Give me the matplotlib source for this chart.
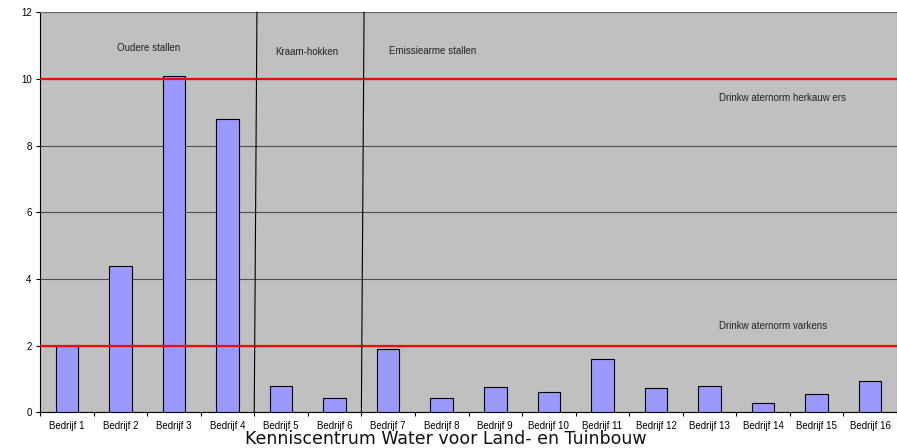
import matplotlib.pyplot as plt
import numpy as np

plt.rcParams.update({
    "font.family": ["Liberation Sans", "DejaVu Sans"],
    "font.size": 7,
})

companies = [f"Bedrijf {i}" for i in range(1, 17)]
values = [2.0, 4.4, 10.1, 8.8, 0.8, 0.42, 1.9, 0.42,
          0.75, 0.6, 1.59, 0.73, 0.78, 0.27, 0.54, 0.93]
norms = [10, 2]
norm_labels = ["Drinkw aternorm herkauw ers", "Drinkw aternorm varkens"]
groups = ["Oudere stallen", "Kraam-hokken", "Emissiearme stallen"]

fig = plt.figure(figsize=(8.97, 4.48), dpi=100)
ax = fig.add_axes([0.0446, 0.0797, 0.9554, 0.8928])
ax.set_facecolor("#c0c0c0")

x = np.arange(len(companies))
ax.bar(x, values, width=0.42, color="#9999ff", edgecolor="black",
       linewidth=0.8, zorder=3)

for n in norms:
    ax.axhline(n, color="#ff0000", lw=1.6, zorder=4)

# group separators (slightly slanted, as in the original)
for b in [3.5, 5.5]:
    ax.plot([b, b + 0.05], [0, 12], color="black", lw=0.8, zorder=5,
            clip_on=False)

ax.set_xlim(-0.5, len(companies) - 0.5)
ax.set_ylim(0, 12)
ax.set_yticks(range(0, 13, 2))
ax.yaxis.grid(True, color="#505050", lw=0.8, zorder=1)
ax.set_axisbelow(True)

ax.set_xticks(x)
ax.set_xticklabels(companies, fontsize=7)
ax.set_xticks(np.arange(-0.5, len(companies), 1), minor=True)
ax.tick_params(axis="x", which="major", length=0, pad=6)
ax.tick_params(axis="x", which="minor", length=3, width=0.8, direction="out")
ax.tick_params(axis="y", length=3, width=0.8, labelsize=7, pad=3)

for s in ["top", "right"]:
    ax.spines[s].set_color("#666666")
    ax.spines[s].set_linewidth(0.8)
for s in ["left", "bottom"]:
    ax.spines[s].set_color("black")
    ax.spines[s].set_linewidth(0.8)

ax.text(1.53, 10.93, groups[0], ha="center", va="center", fontsize=7, color="#222222")
ax.text(4.48, 10.82, groups[1], ha="center", va="center", fontsize=7, color="#222222")
ax.text(6.01, 10.84, groups[2], ha="left", va="center", fontsize=7, color="#222222")
ax.text(12.17, 9.43, norm_labels[0], ha="left", va="center", fontsize=7, color="#222222")
ax.text(12.17, 2.6, norm_labels[1], ha="left", va="center", fontsize=7, color="#222222")

fig.text(0.497, 0.008, "Kenniscentrum Water voor Land- en Tuinbouw",
         ha="center", va="baseline", fontsize=12.5, family="DejaVu Sans",
         color="#111111")

fig.savefig("out.png", dpi=100)
